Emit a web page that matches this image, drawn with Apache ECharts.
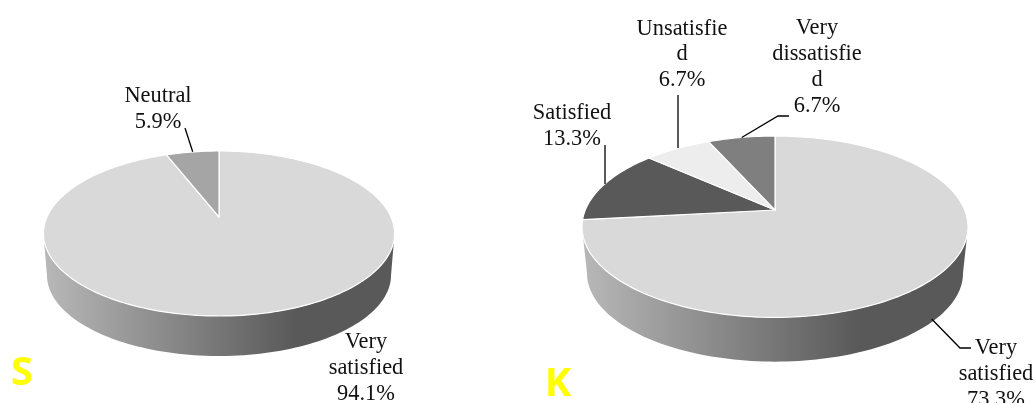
<!DOCTYPE html>
<html lang="en">
<head>
  <meta charset="UTF-8">
  <title>Satisfaction pies</title>
  <script src="https://cdn.jsdelivr.net/npm/echarts@6"></script>
  <style>
    html, body { margin: 0; padding: 0; background: #fff; overflow: hidden; }
    #chart { width: 1035px; height: 403px; }
  </style>
</head>
<body>
  <div id="chart"></div>
  <script>
    // values
    const sNames = ['Very\nsatisfied', 'Neutral'];
    const sValues = [94.1, 5.9];
    const kNames = ['Very\nsatisfied', 'Satisfied', 'Unsatisfie\nd', 'Very\ndissatisfie\nd'];
    const kValues = [73.3, 13.3, 6.7, 6.7];

    const sColors = ['#d9d9d9', '#a5a5a5'];
    const kColors = ['#d9d9d9', '#595959', '#ededed', '#7f7f7f'];

    // pie geometry: a tilted disc seen in perspective
    const sShape = { cx: 219, apexY: 217, a: 172, b: 79.2, k: 0.2, drop: 42, shrink: 0.98, left: 44, right: 394 };
    const kShape = { cx: 775, apexY: 210, a: 189.7, b: 87.6, k: 0.1845, drop: 47, shrink: 0.974, left: 582, right: 968 };

    // label centre + leader line per slice
    const sLabels = [
      { x: 366, y: 368, line: [] },
      { x: 158, y: 109, line: [[185, 128], [192.7, 151.7]] }
    ];
    const kLabels = [
      { x: 996, y: 374, line: [[931.7, 319], [960, 348], [971, 348]] },
      { x: 572, y: 126, line: [[605, 145], [605, 184]] },
      { x: 682, y: 54.5, line: [[678, 95], [678, 148]] },
      { x: 817, y: 67, line: [[789, 116], [778, 116], [741.7, 137.5]] }
    ];

    const wallStops = [
      { offset: 0, color: '#b8b8b8' },
      { offset: 0.72, color: '#595959' },
      { offset: 1, color: '#595959' }
    ];

    function project(shape, deg, bottom) {
      const t = deg * Math.PI / 180;
      const w = 1 + shape.k * Math.cos(t);
      const s = bottom ? shape.shrink : 1;
      const y0 = shape.apexY + (bottom ? shape.drop : 0);
      return [shape.cx + s * shape.a * Math.sin(t) / w, y0 - s * shape.b * Math.cos(t) / w];
    }

    function arc(shape, from, to, bottom) {
      const pts = [];
      const n = Math.max(2, Math.ceil(Math.abs(to - from) / 1.5));
      for (let i = 0; i <= n; i++) {
        pts.push(project(shape, from + (to - from) * i / n, bottom));
      }
      return pts;
    }

    function pieSeries(names, values, colors, labels, shape) {
      const total = values.reduce((a, b) => a + b, 0);
      let acc = 0;
      const rows = values.map((v, i) => {
        const start = acc / total * 360;
        acc += v;
        return [v, start, acc / total * 360, i];
      });
      // the wall is only seen between the two silhouette points
      const wallFrom = Math.acos(-shape.k) * 180 / Math.PI;
      const wallTo = 360 - wallFrom;

      return {
        type: 'custom',
        coordinateSystem: 'none',
        silent: true,
        animation: false,
        data: rows,
        renderItem: function (params, api) {
          const i = api.value(3);
          const start = api.value(1);
          const end = api.value(2);
          const children = [];

          const wa = Math.max(start, wallFrom);
          const wb = Math.min(end, wallTo);
          if (wb > wa) {
            children.push({
              type: 'polygon',
              z2: 1,
              shape: { points: arc(shape, wa, wb, false).concat(arc(shape, wb, wa, true)) },
              style: {
                fill: { type: 'linear', x: shape.left, y: 0, x2: shape.right, y2: 0, global: true, colorStops: wallStops }
              }
            });
          }

          children.push({
            type: 'polygon',
            z2: 2,
            shape: { points: [[shape.cx, shape.apexY]].concat(arc(shape, start, end, false)) },
            style: { fill: colors[i], stroke: '#ffffff', lineWidth: 1.2, lineJoin: 'round' }
          });

          const lab = labels[i];
          if (lab.line.length) {
            children.push({
              type: 'polyline',
              z2: 3,
              shape: { points: lab.line },
              style: { fill: null, stroke: '#000000', lineWidth: 1.3 }
            });
          }
          children.push({
            type: 'text',
            z2: 4,
            style: {
              text: names[i] + '\n' + api.value(0).toFixed(1) + '%',
              x: lab.x,
              y: lab.y,
              align: 'center',
              verticalAlign: 'middle',
              fontFamily: '"Liberation Serif", serif',
              fontSize: 22.4,
              lineHeight: 25.8,
              fill: '#111111'
            }
          });
          return { type: 'group', children: children };
        }
      };
    }

    const letterStyle = {
      align: 'center',
      verticalAlign: 'middle',
      fontFamily: '"Open Sans", sans-serif',
      fontWeight: 'bold',
      fontSize: 40,
      fill: '#ffff00'
    };

    const chart = echarts.init(document.getElementById('chart'), null, { renderer: 'canvas' });
    chart.setOption({
      backgroundColor: '#ffffff',
      animation: false,
      graphic: [
        { type: 'text', z: 10, style: Object.assign({ text: 'S', x: 22, y: 374 }, letterStyle) },
        { type: 'text', z: 10, style: Object.assign({ text: 'K', x: 558, y: 384.5 }, letterStyle) }
      ],
      series: [
        pieSeries(sNames, sValues, sColors, sLabels, sShape),
        pieSeries(kNames, kValues, kColors, kLabels, kShape)
      ]
    });

    window.onresize = () => chart.resize();
  </script>
</body>
</html>
